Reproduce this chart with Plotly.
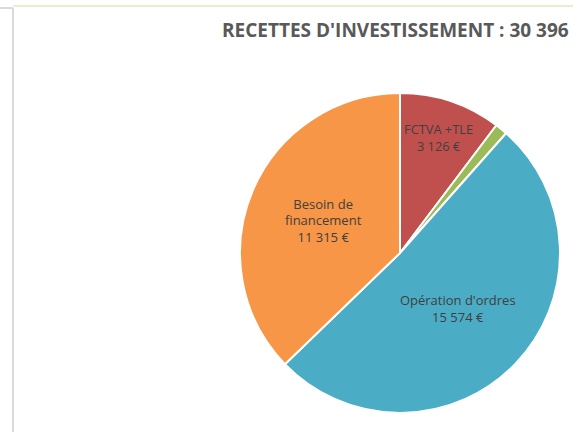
import plotly.graph_objects as go

# Recettes d'investissement (€)
LABELS = ['FCTVA +TLE', 'Autres', "Opération d'ordres", 'Besoin de<br>financement']
VALUES = [3126, 381, 15574, 11315]
SHOW_TEXT = [True, False, True, True]

COLORS = ['#C0504D', '#9BBB59', '#4BACC6', '#F79646']
W, H = 573, 432

templates = ['%{label}<br>%{value:,} €' if s else '' for s in SHOW_TEXT]

fig = go.Figure(go.Pie(
    labels=LABELS,
    values=VALUES,
    sort=False,
    direction='clockwise',
    rotation=0,
    marker=dict(colors=COLORS, line=dict(color='#FFFFFF', width=2)),
    texttemplate=templates,
    textposition='inside',
    insidetextorientation='horizontal',
    textfont=dict(family='Open Sans, sans-serif', size=13, color='#404040'),
    hoverinfo='label+value+percent',
    domain=dict(x=[240 / W, 560 / W], y=[19 / H, 339 / H]),
    showlegend=False,
))

fig.update_layout(
    width=W, height=H,
    margin=dict(l=0, r=0, t=0, b=0),
    paper_bgcolor='#FFFFFF',
    separators=', ',
    font=dict(family='Open Sans, sans-serif'),
    annotations=[dict(
        text="<b>RECETTES D'INVESTISSEMENT : 30 396</b>",
        x=571 / W, y=1 - 30 / H, xref='paper', yref='paper',
        xanchor='right', yanchor='middle', showarrow=False,
        font=dict(family='Open Sans, sans-serif', size=19, color='#595959'),
    )],
    shapes=[
        # spreadsheet frame lines
        dict(type='line', xref='paper', yref='paper', x0=13 / W, x1=13 / W, y0=0, y1=1 - 8 / H,
             line=dict(color='#DADADA', width=2)),
        dict(type='line', xref='paper', yref='paper', x0=0, x1=13 / W, y0=1 - 8 / H, y1=1 - 8 / H,
             line=dict(color='#DADADA', width=2)),
        dict(type='line', xref='paper', yref='paper', x0=13 / W, x1=1, y0=1 - 6 / H, y1=1 - 6 / H,
             line=dict(color='#EEEBD2', width=2)),
    ],
)

fig.write_html('out.html', config={'displayModeBar': False},
               post_script="document.body.style.margin='0';")
